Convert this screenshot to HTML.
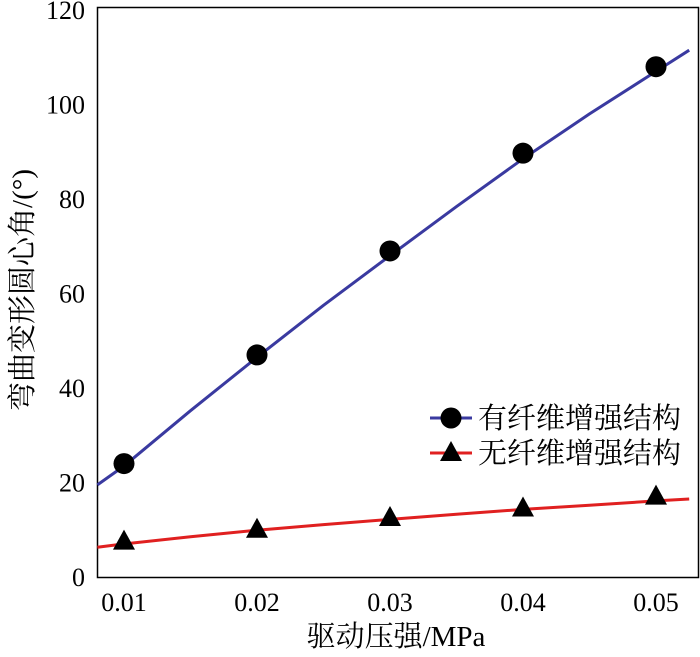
<!DOCTYPE html>
<html><head><meta charset="utf-8">
<style>
body{margin:0;background:#fff;}
svg{display:block;font-family:"Liberation Serif","Noto Serif CJK SC",serif;}
</style></head>
<body>
<svg id="chart" width="700" height="657" viewBox="0 0 700 657" xmlns="http://www.w3.org/2000/svg">
<rect x="97.5" y="7.5" width="601" height="570" fill="none" stroke="#000" stroke-width="1.5"/>
<g id="axes"></g>
<g id="series"></g>
<g>
  <line x1="430" y1="418" x2="472" y2="418" stroke="#3a3aa0" stroke-width="3"/>
  <circle cx="451" cy="418" r="10.5" fill="#000"/>
  <text x="478" y="428" font-size="29" font-family="'Liberation Serif','Noto Serif CJK SC',serif">有纤维增强结构</text>
  <line x1="430" y1="453" x2="472" y2="453" stroke="#e02020" stroke-width="3"/>
  <polygon points="451,441 462,461 440,461" fill="#000"/>
  <text x="478" y="463" font-size="29" font-family="'Liberation Serif','Noto Serif CJK SC',serif">无纤维增强结构</text>
</g>
<text transform="translate(32,290) rotate(-90)" text-anchor="middle" font-size="29">弯曲变形圆心角/(°)</text>
<text x="396" y="646" text-anchor="middle" font-size="29">驱动压强/MPa</text>
</svg>
<script>
const xTicks = [0.01, 0.02, 0.03, 0.04, 0.05];
const xTickLabels = ["0.01", "0.02", "0.03", "0.04", "0.05"];
const yTicks = [0, 20, 40, 60, 80, 100, 120];
const yTickLabels = ["0", "20", "40", "60", "80", "100", "120"];
const pressure = [0.01, 0.02, 0.03, 0.04, 0.05];
const fiberValues = [24, 47, 69, 89.7, 108];
const noFiberValues = [7.5, 10, 12.5, 14.5, 17];
const curveX = [0.008, 0.01, 0.015, 0.02, 0.025, 0.03, 0.035, 0.04, 0.045, 0.05, 0.0525];
const fiberCurve = [19.5, 23.5, 35.2, 46.5, 57.5, 68, 78.4, 88.5, 98, 107, 111.5];
const noFiberCurve = [6.3, 7, 8.5, 9.9, 11.1, 12.2, 13.3, 14.3, 15.2, 16.1, 16.5];

const NS = "http://www.w3.org/2000/svg";
function sx(v){ return 124 + (v - 0.01) / 0.01 * 133; }
function sy(v){ return 577 - v / 20 * 94.5; }
function mk(tag, attrs, parent){
  const e = document.createElementNS(NS, tag);
  for (const k in attrs) e.setAttribute(k, attrs[k]);
  parent.appendChild(e); return e;
}
const axes = document.getElementById("axes");
const series = document.getElementById("series");
xTicks.forEach((t, i) => {
  const el = mk("text", {x: sx(t), y: 611, "text-anchor": "middle", "font-size": "26"}, axes);
  el.textContent = xTickLabels[i];
  
  
});
yTicks.forEach((t, i) => {
  const el = mk("text", {x: 85, y: sy(t) + 9, "text-anchor": "end", "font-size": "26"}, axes);
  el.textContent = yTickLabels[i];
  
  
});
function pathFor(ys){
  let d = "";
  for (let i = 0; i < curveX.length; i++) {
    d += (i ? "L" : "M") + sx(curveX[i]).toFixed(1) + "," + sy(ys[i]).toFixed(1);
  }
  return d;
}
const l1 = mk("path", {d: pathFor(fiberCurve), fill: "none", stroke: "#3a3aa0", "stroke-width": "3", "stroke-linejoin": "round"}, series);


const l2 = mk("path", {d: pathFor(noFiberCurve), fill: "none", stroke: "#e02020", "stroke-width": "3", "stroke-linejoin": "round"}, series);


pressure.forEach((p, i) => {
  const c = mk("circle", {cx: sx(p), cy: sy(fiberValues[i]), r: 10.5, fill: "#000"}, series);
  
  
  const x = sx(p), y = sy(noFiberValues[i]);
  const tr = mk("polygon", {points: `${x},${y-12} ${x+11},${y+8} ${x-11},${y+8}`, fill: "#000"}, series);
  
  
});
</script>
</body></html>
